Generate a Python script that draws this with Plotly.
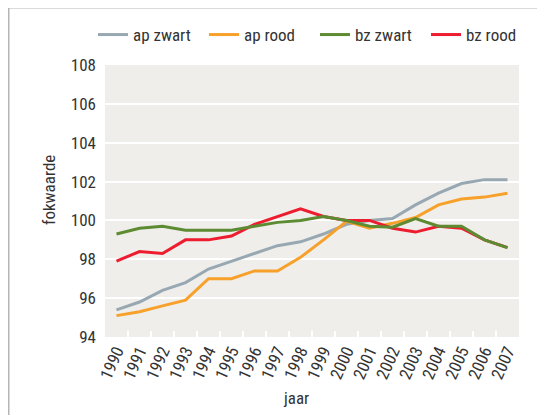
import plotly.graph_objects as go

years = [str(y) for y in range(1990, 2008)]
ap_zwart = [95.4, 95.8, 96.4, 96.8, 97.5, 97.9, 98.3, 98.7, 98.9, 99.3, 99.8, 100.0, 100.1, 100.8, 101.4, 101.9, 102.1, 102.1]
ap_rood = [95.1, 95.3, 95.6, 95.9, 97.0, 97.0, 97.4, 97.4, 98.1, 99.0, 99.95, 99.6, 99.85, 100.15, 100.8, 101.1, 101.2, 101.4]
bz_zwart = [99.3, 99.6, 99.7, 99.5, 99.5, 99.5, 99.7, 99.9, 100.0, 100.2, 100.0, 99.7, 99.65, 100.1, 99.7, 99.7, 99.0, 98.6]
bz_rood = [97.9, 98.4, 98.3, 99.0, 99.0, 99.2, 99.8, 100.2, 100.6, 100.2, 100.0, 100.0, 99.6, 99.4, 99.7, 99.6, 99.0, 98.6]
y_ticks = [94, 96, 98, 100, 102, 104, 106, 108]

FONT = "Liberation Sans Narrow, Roboto Condensed, Arial Narrow, sans-serif"
TXT = "#333333"
FS = 17

fig = go.Figure()
series = [
    ("ap zwart", ap_zwart, "#98a8b2", 1),
    ("ap rood", ap_rood, "#f7a02a", 2),
    ("bz rood", bz_rood, "#ed1c2e", 4),
    ("bz zwart", bz_zwart, "#5d8b32", 3),
]
for name, vals, col, rank in series:
    fig.add_trace(go.Scatter(x=years, y=vals, mode="lines", name=name,
                             line=dict(color=col, width=3), legendrank=rank))

# page has an 8px body margin; figure coordinates = page coordinates - 8
OFF = 8
W, H = 545 - OFF, 415 - OFF
L, T = 105 - OFF, 65 - OFF
pw, ph = 414, 272
R, B = W - L - pw, H - T - ph

def px(xp):
    return (xp - OFF - L) / pw

def py(yp):
    return 1 - (yp - OFF - T) / ph

fig.update_layout(
    width=W, height=H,
    margin=dict(l=L, r=R, t=T, b=B, autoexpand=False),
    paper_bgcolor="white",
    plot_bgcolor="#efeeeb",
    font=dict(family=FONT, color=TXT, size=FS),
    showlegend=True,
    legend=dict(orientation="h", x=px(93), xanchor="left",
                y=py(35), yanchor="middle",
                entrywidth=66, entrywidthmode="pixels",
                font=dict(size=FS, family=FONT, color=TXT),
                bgcolor="rgba(0,0,0,0)", traceorder="normal"),
    xaxis=dict(type="category", range=[-0.5, 17.5], tickangle=-66,
               showgrid=False, zeroline=False, showline=False,
               ticks="inside", tickson="boundaries", ticklen=6,
               tickcolor="white", tickwidth=1.5,
               tickfont=dict(size=FS, family=FONT, color=TXT)),
    yaxis=dict(range=[94, 108], tickvals=y_ticks, showgrid=True,
               gridcolor="white", gridwidth=2, zeroline=False,
               showline=False, ticks="", ticklabelstandoff=8,
               tickfont=dict(size=FS, family=FONT, color=TXT)),
    annotations=[
        dict(text="fokwaarde", xref="paper", yref="paper",
             x=px(49), y=py(190), textangle=-90,
             showarrow=False, font=dict(size=FS, family=FONT, color=TXT),
             xanchor="center", yanchor="middle"),
        dict(text="jaar", xref="paper", yref="paper",
             x=px(296), y=py(398),
             showarrow=False, font=dict(size=FS, family=FONT, color=TXT),
             xanchor="center", yanchor="middle"),
    ],
    shapes=[
        dict(type="rect", xref="paper", yref="paper",
             x0=px(8.75), x1=3, y0=-3, y1=py(7.75),
             line=dict(color="#b5b5b5", width=1.5), fillcolor="rgba(0,0,0,0)",
             layer="below"),
    ],
)

fig.write_html("out.html")
